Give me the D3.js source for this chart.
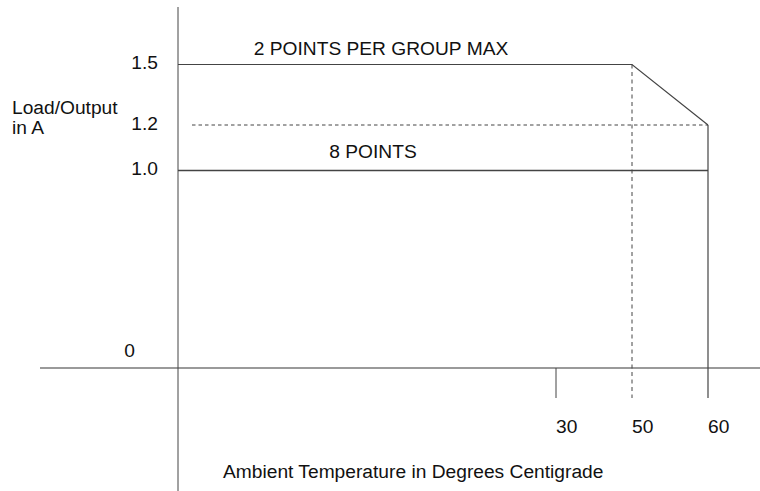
<!DOCTYPE html>
<html><head><meta charset="utf-8">
<script src="https://cdn.jsdelivr.net/npm/d3@7"></script>
<style>
html,body{margin:0;padding:0;background:#fff;}
text{font-family:"Liberation Sans",Arial,Helvetica,sans-serif;fill:#111;}
</style></head>
<body>
<script>
// ---- data ----
const xTickValues = [30, 50, 60];
const xTickLabels = ["30", "50", "60"];
const yTickValues = [1.5, 1.2, 1.0];
const yTickLabels = ["1.5", "1.2", "1.0"];
const zeroLabel = "0";
const maxTemps = [0, 50, 60];          // 2 points per group max curve
const maxLoads = [1.5, 1.5, 1.2];
const eightTemps = [0, 60];            // 8 points curve
const eightLoads = [1.0, 1.0];
const seriesLabels = ["2 POINTS PER GROUP MAX", "8 POINTS"];
const yTitle = ["Load/Output", "in A"];
const xTitle = "Ambient Temperature in Degrees Centigrade";

const W = 760, H = 491;
const svg = d3.select("body").append("svg").attr("width", W).attr("height", H);

// schematic (non-uniform) scales as in the original drawing
const x = d3.scaleLinear().domain([0, 30, 50, 60]).range([178, 556, 632, 708]);
const y = d3.scaleLinear().domain([0, 1.0, 1.2, 1.5]).range([368, 170.5, 125, 64.5]);

const ink = "#444";
const fs = 19.2;

// x axis (gray)
svg.append("line").attr("x1", 40).attr("x2", W).attr("y1", y(0)).attr("y2", y(0))
  .attr("stroke", "#9a9a9a").attr("stroke-width", 2);
// y axis
svg.append("line").attr("x1", x(0)).attr("x2", x(0)).attr("y1", 7).attr("y2", H)
  .attr("stroke", ink).attr("stroke-width", 1);

const line = d3.line().x(d => x(d[0])).y(d => y(d[1]));

// 2 points per group max curve
svg.append("path").datum(d3.zip(maxTemps, maxLoads)).attr("d", line)
  .attr("fill", "none").attr("stroke", ink).attr("stroke-width", 1.2);
// 8 points curve
svg.append("path").datum(d3.zip(eightTemps, eightLoads)).attr("d", line)
  .attr("fill", "none").attr("stroke", ink).attr("stroke-width", 1.4);

// dashed reference at 1.2
svg.append("line").attr("x1", x(0) + 14).attr("x2", x(60)).attr("y1", y(1.2)).attr("y2", y(1.2))
  .attr("stroke", ink).attr("stroke-dasharray", "3.5,3").attr("stroke-width", 1);

// ticks / drop lines
const tickLen = 30;
svg.append("line").attr("x1", x(30)).attr("x2", x(30)).attr("y1", y(0)).attr("y2", y(0) + tickLen)
  .attr("stroke", ink).attr("stroke-width", 1);
svg.append("line").attr("x1", x(50)).attr("x2", x(50)).attr("y1", y(1.5)).attr("y2", y(0) + tickLen)
  .attr("stroke", ink).attr("stroke-dasharray", "4,3.5").attr("stroke-width", 1);
svg.append("line").attr("x1", x(60)).attr("x2", x(60)).attr("y1", y(1.2)).attr("y2", y(0) + tickLen)
  .attr("stroke", ink).attr("stroke-width", 1.2);

// x tick labels
svg.selectAll(".xt").data(xTickValues).enter().append("text")
  .attr("x", d => x(d)).attr("y", y(0) + 65).attr("font-size", fs)
  .text((d, i) => xTickLabels[i]);

// y tick labels
svg.selectAll(".yt").data(yTickValues).enter().append("text")
  .attr("x", x(0) - 20).attr("y", d => y(d) + 4.5).attr("text-anchor", "end").attr("font-size", fs)
  .text((d, i) => yTickLabels[i]);
svg.append("text").attr("x", x(0) - 43).attr("y", y(0) - 11).attr("text-anchor", "end")
  .attr("font-size", fs).text(zeroLabel);

// series labels
svg.append("text").attr("x", 381).attr("y", y(1.5) - 10).attr("text-anchor", "middle")
  .attr("font-size", fs).text(seriesLabels[0]);
svg.append("text").attr("x", 373).attr("y", y(1.0) - 12.5).attr("text-anchor", "middle")
  .attr("font-size", fs).text(seriesLabels[1]);

// axis titles
svg.append("text").attr("x", 12).attr("y", 114).attr("font-size", fs).text(yTitle[0]);
svg.append("text").attr("x", 12).attr("y", 134).attr("font-size", fs).text(yTitle[1]);
svg.append("text").attr("x", 223).attr("y", 478).attr("font-size", fs).text(xTitle);
</script>
</body></html>
